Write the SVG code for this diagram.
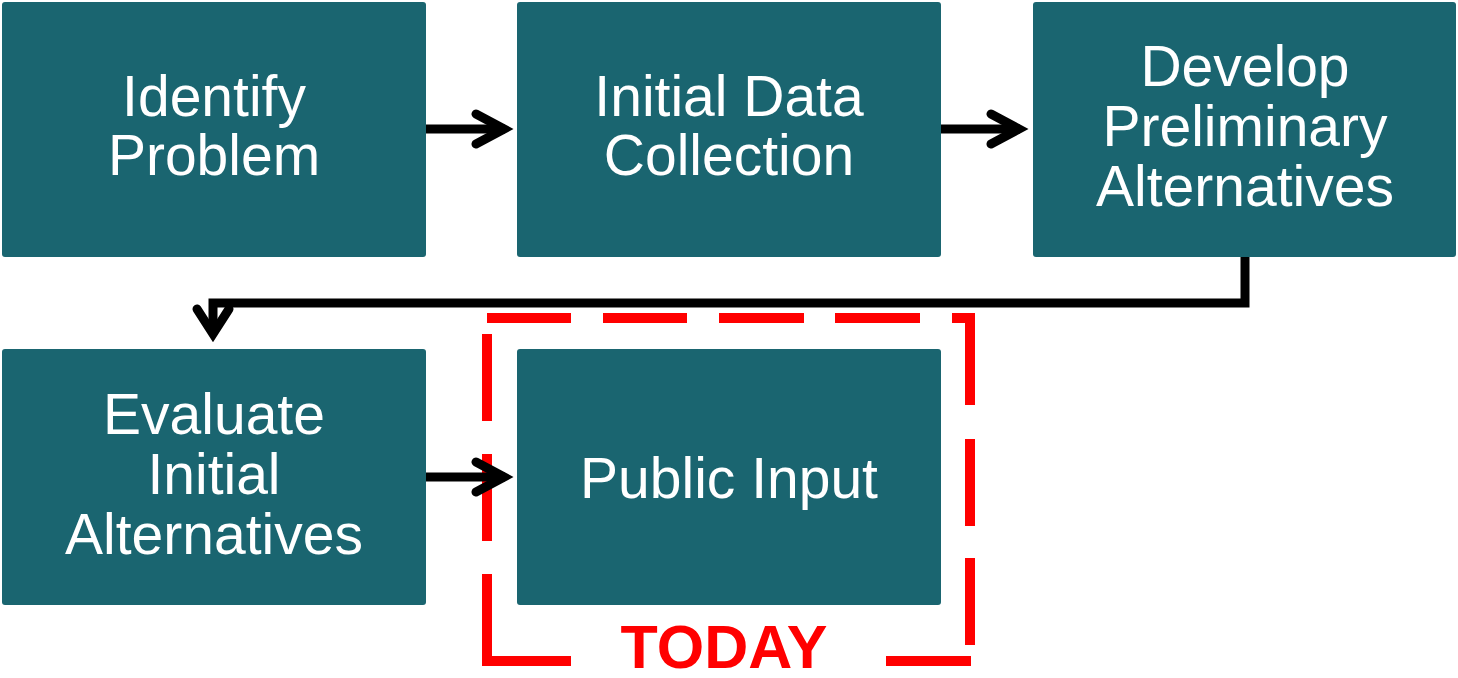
<svg xmlns="http://www.w3.org/2000/svg" width="1458" height="678" viewBox="0 0 1458 678">
<style>
.box{fill:#1a6570}
.lbl{font-family:"Liberation Sans",Arial,sans-serif;font-size:57px;fill:#ffffff;text-anchor:middle}
.conn{fill:none;stroke:#000;stroke-width:9;stroke-linejoin:miter}
.head{fill:none;stroke:#000;stroke-width:9;stroke-linecap:round;stroke-linejoin:miter}
.dash{fill:none;stroke:#ff0000;stroke-width:10;stroke-linejoin:miter}
</style>
<rect width="1458" height="678" fill="#ffffff"/>
<g id="today">
<path class="dash" d="M487 318H571M603 318H687M719 318H804M835 318H920M952 318H970V405M970 439V526M970 558V645M886 661H971M487 334V421M487 454V541M487 574V661H571"/>
<text x="724" y="668" font-family="'Liberation Sans',Arial,sans-serif" font-size="61" font-weight="bold" fill="#ff0000" text-anchor="middle">TODAY</text>
</g>
<g id="connectors">
<path class="conn" d="M426 129H505"/>
<path class="head" d="M476 114L504 129L476 144"/>
<path class="conn" d="M941 129H1020"/>
<path class="head" d="M991 114L1019 129L991 144"/>
<path class="conn" d="M1245 257V303H213V334"/>
<path class="head" d="M197 309L213 334L229 309"/>
<path class="conn" d="M426 477H505"/>
<path class="head" d="M476 462L504 477L476 492"/>
</g>
<g id="identify">
<rect class="box" x="2" y="2" width="424" height="255" rx="3"/>
<text class="lbl"><tspan x="214" y="116">Identify</tspan><tspan x="214" y="175">Problem</tspan></text>
</g>
<g id="initial-data">
<rect class="box" x="517" y="2" width="424" height="255" rx="3"/>
<text class="lbl"><tspan x="729" y="116">Initial Data</tspan><tspan x="729" y="175">Collection</tspan></text>
</g>
<g id="develop">
<rect class="box" x="1033" y="2" width="423" height="255" rx="3"/>
<text class="lbl"><tspan x="1245" y="86">Develop</tspan><tspan x="1245" y="146">Preliminary</tspan><tspan x="1245" y="206">Alternatives</tspan></text>
</g>
<g id="evaluate">
<rect class="box" x="2" y="349" width="424" height="256" rx="3"/>
<text class="lbl"><tspan x="214" y="434">Evaluate</tspan><tspan x="214" y="494">Initial</tspan><tspan x="214" y="554">Alternatives</tspan></text>
</g>
<g id="public-input">
<rect class="box" x="517" y="349" width="424" height="256" rx="3"/>
<text class="lbl" x="729" y="498">Public Input</text>
</g>
</svg>
